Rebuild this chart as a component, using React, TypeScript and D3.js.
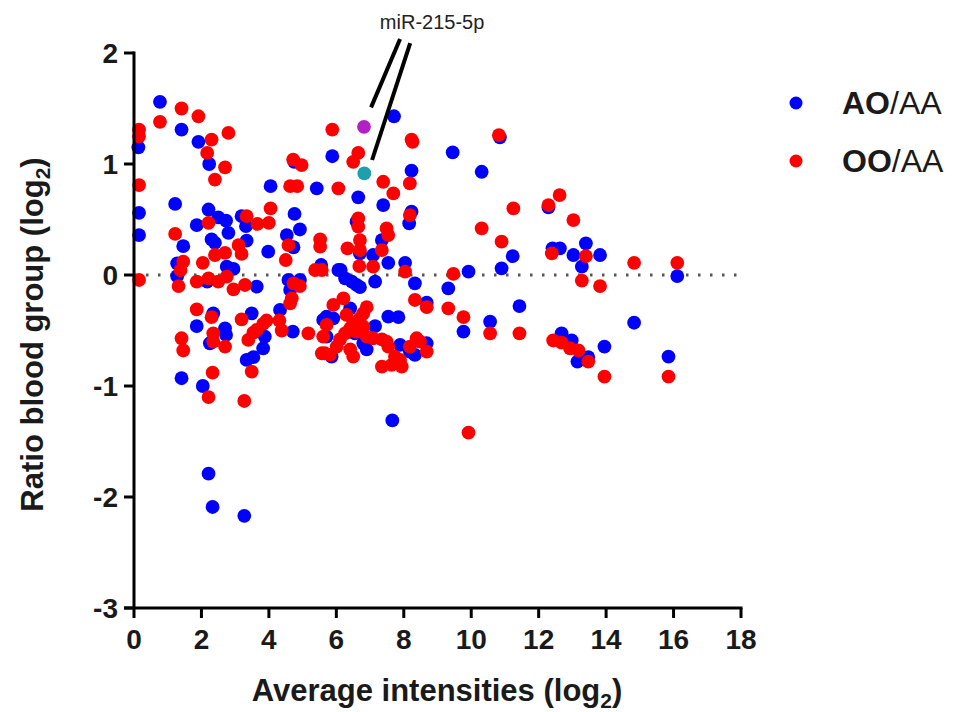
import React from "react";
import * as d3 from "d3";

// AO/AA series: [average intensity (log2), ratio (log2)]
const aoData: [number, number][] = [
  [0.77, 1.56], [1.41, 1.31], [1.91, 1.2], [0.13, 1.15], [2.23, 1.0], [4.05, 0.8], [5.42, 0.78],
  [4.75, 1.02], [5.88, 1.07], [1.22, 0.64], [0.15, 0.56], [2.21, 0.59], [1.86, 0.45], [2.5, 0.52],
  [2.73, 0.49], [3.19, 0.53], [4.76, 0.55], [4.92, 0.41], [0.15, 0.36], [2.8, 0.38], [3.32, 0.44],
  [1.46, 0.26], [2.3, 0.32], [2.4, 0.29], [3.34, 0.31], [3.98, 0.21], [4.53, 0.36], [4.73, 0.25],
  [1.28, 0.105], [2.75, 0.075], [2.95, 0.055], [5.55, 0.09], [6.06, 0.045], [1.28, -0.01],
  [2.17, -0.06], [3.64, -0.105], [4.58, -0.045], [4.63, -0.135], [4.92, -0.045], [2.35, -0.345],
  [1.86, -0.46], [2.7, -0.48], [2.73, -0.54], [2.25, -0.615], [3.49, -0.345], [3.88, -0.555],
  [3.83, -0.66], [3.34, -0.765], [3.54, -0.74], [4.33, -0.315], [4.71, -0.51], [5.61, -0.405],
  [5.71, -0.555], [5.86, -0.735], [1.41, -0.93], [2.04, -1.0], [7.66, -1.31], [2.21, -1.79],
  [2.33, -2.09], [3.27, -2.17], [7.71, 1.43], [8.23, 0.94], [6.65, 0.7], [9.45, 1.105],
  [10.31, 0.93], [10.85, 1.24], [7.39, 0.63], [8.23, 0.57], [8.16, 0.465], [6.6, 0.48],
  [7.35, 0.315], [11.23, 0.17], [10.9, 0.06], [6.7, 0.195], [7.09, 0.18], [7.54, 0.11],
  [8.04, 0.11], [6.13, 0.045], [6.26, -0.03], [6.46, -0.06], [6.6, -0.09], [6.7, -0.11],
  [7.15, -0.06], [8.33, -0.075], [9.92, 0.03], [9.32, -0.12], [8.68, -0.25], [11.43, -0.28],
  [9.77, -0.51], [10.56, -0.42], [6.41, -0.3], [5.71, -0.375], [5.91, -0.39], [7.54, -0.375],
  [7.84, -0.38], [7.15, -0.46], [6.55, -0.525], [6.9, -0.67], [7.89, -0.63], [8.18, -0.69],
  [8.33, -0.72], [8.68, -0.615], [6.8, -0.615], [12.29, 0.61], [12.41, 0.24], [12.63, 0.24],
  [13.03, 0.18], [13.4, 0.285], [13.82, 0.18], [13.28, 0.075], [16.11, -0.01], [14.83, -0.43],
  [12.68, -0.525], [12.98, -0.59], [13.47, -0.74], [13.15, -0.78], [13.95, -0.645], [15.85, -0.735],
];

// OO/AA series
const ooData: [number, number][] = [
  [1.41, 1.5], [1.91, 1.43], [0.77, 1.38], [0.15, 1.31], [0.15, 1.25], [2.3, 1.22], [2.8, 1.28],
  [2.17, 1.1], [2.7, 0.97], [2.4, 0.86], [0.15, 0.81], [4.63, 0.8], [4.84, 0.8], [6.06, 0.78],
  [4.72, 1.04], [4.97, 0.99], [5.88, 1.31], [2.21, 0.47], [3.34, 0.53], [3.66, 0.46], [4.0, 0.47],
  [4.05, 0.6], [1.22, 0.37], [3.1, 0.27], [3.19, 0.19], [4.58, 0.27], [4.5, 0.135], [5.52, 0.32],
  [5.52, 0.255], [1.46, 0.12], [1.38, 0.045], [2.04, 0.11], [2.4, 0.18], [2.7, 0.2], [5.37, 0.045],
  [5.57, 0.045], [0.15, -0.045], [1.32, -0.1], [1.86, -0.06], [2.21, -0.03], [2.5, -0.06],
  [2.75, -0.015], [2.95, -0.13], [3.29, -0.09], [4.73, -0.075], [4.92, -0.1], [4.68, -0.21],
  [4.63, -0.255], [1.86, -0.31], [2.3, -0.38], [1.41, -0.57], [1.46, -0.68], [2.35, -0.525],
  [2.35, -0.6], [2.7, -0.645], [3.19, -0.4], [3.39, -0.585], [3.54, -0.52], [3.64, -0.495],
  [3.83, -0.44], [3.93, -0.41], [3.49, -0.87], [4.31, -0.41], [4.38, -0.5], [5.17, -0.525],
  [5.71, -0.45], [5.61, -0.555], [5.57, -0.705], [5.81, -0.72], [5.91, -0.27], [2.33, -0.88],
  [2.21, -1.1], [3.27, -1.135], [9.92, -1.42], [8.23, 1.22], [8.26, 1.2], [6.65, 1.1], [6.5, 1.02],
  [7.39, 0.84], [8.18, 0.825], [7.69, 0.735], [10.82, 1.26], [8.18, 0.54], [11.25, 0.6],
  [6.65, 0.51], [6.65, 0.435], [7.49, 0.42], [7.54, 0.36], [10.31, 0.42], [10.9, 0.3], [6.33, 0.24],
  [6.7, 0.315], [6.7, 0.225], [7.35, 0.225], [6.68, 0.08], [7.09, 0.075], [8.04, 0.03], [9.47, 0.01],
  [8.33, -0.225], [8.68, -0.29], [9.32, -0.3], [9.77, -0.38], [10.56, -0.525], [11.43, -0.525],
  [6.21, -0.21], [6.3, -0.36], [6.9, -0.29], [6.8, -0.345], [6.7, -0.39], [6.5, -0.435],
  [6.41, -0.48], [6.26, -0.525], [6.11, -0.58], [6.01, -0.645], [5.66, -0.705], [6.6, -0.51],
  [6.8, -0.465], [6.9, -0.555], [7.09, -0.57], [7.35, -0.58], [7.49, -0.6], [6.41, -0.67],
  [6.5, -0.735], [7.54, -0.645], [7.74, -0.735], [7.89, -0.765], [7.94, -0.825], [7.64, -0.81],
  [7.35, -0.825], [8.18, -0.645], [8.38, -0.57], [8.48, -0.6], [8.68, -0.69], [12.62, 0.72],
  [12.29, 0.63], [13.03, 0.495], [12.39, 0.195], [13.4, 0.17], [14.83, 0.11], [16.11, 0.11],
  [13.28, -0.05], [13.82, -0.1], [12.43, -0.59], [12.68, -0.61], [12.93, -0.66], [13.18, -0.68],
  [13.47, -0.78], [13.95, -0.915], [15.85, -0.915],
];

// miR-215-5p highlighted points (AO/AA, OO/AA)
const highlightLabel = "miR-215-5p";
const highlightData: [number, number][] = [
  [6.82, 1.335],
  [6.83, 0.915],
];
const highlightColors = ["#b31fc6", "#1f9fab"];
// leader lines in data units: [x1, y1, x2, y2]
const leaderLines: [number, number, number, number][] = [
  [7.89, 2.126, 7.03, 1.51],
  [8.19, 2.09, 7.06, 1.036],
];
const labelPos: [number, number] = [8.84, 2.22];

const xTicks = [0, 2, 4, 6, 8, 10, 12, 14, 16, 18];
const yTicks = [2, 1, 0, -1, -2, -3];
const legendItems = [
  { bold: "AO", rest: "/AA", color: "#0000ff" },
  { bold: "OO", rest: "/AA", color: "#ff0000" },
];

const FONT = "'Liberation Sans', Arial, Helvetica, sans-serif";

export default function App() {
  const width = 953;
  const height = 712;
  const x = d3.scaleLinear().domain([0, 18]).range([134, 741]);
  const y = d3.scaleLinear().domain([-3, 2]).range([608, 53]);
  const r = 6.9;

  return (
    <svg
      width={width}
      height={height}
      style={{ position: "absolute", left: 0, top: 0, background: "#fff" }}
      fontFamily={FONT}
    >
      {/* zero reference line */}
      <line
        x1={x(0)}
        x2={x(18)}
        y1={y(0)}
        y2={y(0)}
        stroke="#555"
        strokeWidth={3}
        strokeDasharray="2.5 9.5"
      />

      {/* points */}
      <g>
        {aoData.map((d, i) => (
          <circle key={"a" + i} cx={x(d[0])} cy={y(d[1])} r={r} fill="#0000ff" />
        ))}
        {ooData.map((d, i) => (
          <circle key={"o" + i} cx={x(d[0])} cy={y(d[1])} r={r} fill="#ff0000" />
        ))}
        {highlightData.map((d, i) => (
          <circle key={"h" + i} cx={x(d[0])} cy={y(d[1])} r={r} fill={highlightColors[i]} />
        ))}
      </g>

      {/* annotation */}
      {leaderLines.map((l, i) => (
        <line
          key={"l" + i}
          x1={x(l[0])}
          y1={y(l[1])}
          x2={x(l[2])}
          y2={y(l[3])}
          stroke="#000"
          strokeWidth={4}
        />
      ))}
      <text x={x(labelPos[0])} y={y(labelPos[1])} textAnchor="middle" fontSize={20} fill="#222">
        {highlightLabel}
      </text>

      {/* y axis */}
      <line x1={x(0)} x2={x(0)} y1={y(2) - 1.5} y2={y(-3)} stroke="#000" strokeWidth={3} />
      {yTicks.map((t) => (
        <g key={"yt" + t}>
          <line x1={x(0) - 10} x2={x(0)} y1={y(t)} y2={y(t)} stroke="#000" strokeWidth={3} />
          <text
            x={x(0) - 16}
            y={y(t)}
            dy="0.36em"
            textAnchor="end"
            fontSize={28}
            fontWeight="bold"
            fill="#1a1a1a"
          >
            {t}
          </text>
        </g>
      ))}

      {/* x axis */}
      <line x1={x(0) - 10} x2={x(18) + 1.5} y1={y(-3)} y2={y(-3)} stroke="#000" strokeWidth={3} />
      {xTicks.map((t) => (
        <g key={"xt" + t}>
          <line x1={x(t)} x2={x(t)} y1={y(-3)} y2={y(-3) + 10} stroke="#000" strokeWidth={3} />
          <text
            x={x(t)}
            y={y(-3) + 41}
            textAnchor="middle"
            fontSize={28}
            fontWeight="bold"
            fill="#1a1a1a"
          >
            {t}
          </text>
        </g>
      ))}

      {/* axis titles */}
      <text x={437} y={701} textAnchor="middle" fontSize={31} fontWeight="bold" fill="#1a1a1a">
        Average intensities (log
        <tspan fontSize={21} dy={7}>2</tspan>
        <tspan dy={-7}>)</tspan>
      </text>
      <text
        transform={`translate(43, ${(y(2) + y(-3)) / 2 + 4}) rotate(-90)`}
        textAnchor="middle"
        fontSize={31}
        fontWeight="bold"
        fill="#1a1a1a"
      >
        Ratio blood group (log
        <tspan fontSize={21} dy={7}>2</tspan>
        <tspan dy={-7}>)</tspan>
      </text>

      {/* legend */}
      {legendItems.map((it, i) => (
        <g key={"lg" + i} transform={`translate(0, ${i * 58})`}>
          <circle cx={796} cy={103} r={6.5} fill={it.color} />
          <text x={842} y={114} fontSize={32} fill="#1a1a1a">
            <tspan fontWeight="bold">{it.bold}</tspan>
            <tspan>{it.rest}</tspan>
          </text>
        </g>
      ))}
    </svg>
  );
}
